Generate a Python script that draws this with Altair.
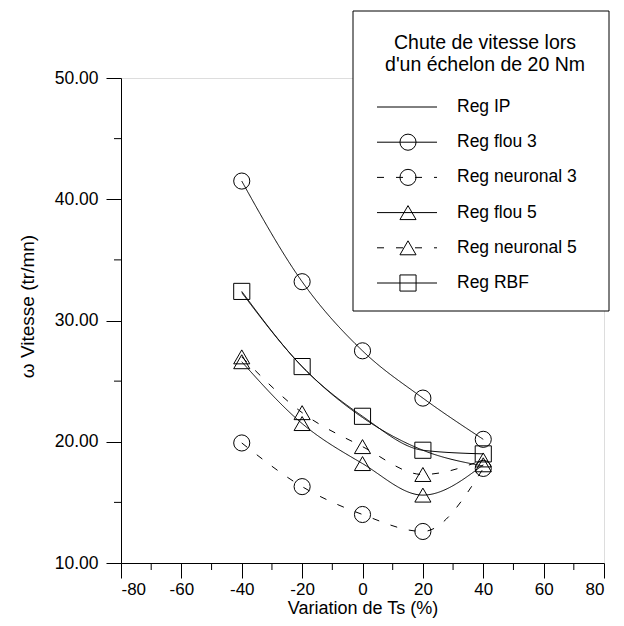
import altair as alt
import pandas as pd

# ---- data ----
ts = [-40, -20, 0, 20, 40]
series = ["Reg IP", "Reg flou 3", "Reg neuronal 3", "Reg flou 5", "Reg neuronal 5", "Reg RBF"]
reg_ip = [32.3, 26.2, 22.0, 19.3, 18.0]
reg_flou3 = [41.5, 33.2, 27.5, 23.6, 20.2]
reg_neuronal3 = [19.9, 16.3, 14.0, 12.6, 17.8]
reg_flou5 = [26.6, 21.5, 18.2, 15.6, 18.1]
reg_neuronal5 = [27.0, 22.4, 19.6, 17.3, 18.5]
reg_rbf = [32.4, 26.2, 22.1, 19.3, 19.0]
x_ticks = [-80, -60, -40, -20, 0, 20, 40, 60, 80]
x_minor = [-70, -50, -30, -10, 10, 30, 50, 70]
y_ticks = [10, 20, 30, 40, 50]
y_minor = [15, 25, 35, 45]

values = [reg_ip, reg_flou3, reg_neuronal3, reg_flou5, reg_neuronal5, reg_rbf]
rows = []
for name, vals in zip(series, values):
    for x, v in zip(ts, vals):
        rows.append({"series": name, "ts": x, "v": v})
df = pd.DataFrame(rows)

dash_map = {"Reg IP": [1, 0], "Reg flou 3": [1, 0], "Reg neuronal 3": [7, 12],
            "Reg flou 5": [1, 0], "Reg neuronal 5": [7, 12], "Reg RBF": [1, 0]}
shape_map = {"Reg flou 3": "circle", "Reg neuronal 3": "circle", "Reg flou 5": "triangle-up",
             "Reg neuronal 5": "triangle-up", "Reg RBF": "square"}

W, H = 483, 485
FONT = "Liberation Sans"

xs = alt.Scale(domain=[-80, 80], nice=False, zero=False)
ys = alt.Scale(domain=[10, 50], nice=False, zero=False)

X = alt.X("ts:Q", scale=xs, axis=alt.Axis(
    values=x_ticks, labelExpr="'' + datum.value", title="Variation de Ts (%)", tickSize=15,
    tickColor="#000", domainColor="#000",
    labelFontSize=17, labelColor="#000", labelPadding=3, labelFont=FONT, grid=False,
    titleFontSize=18, titleFontWeight="normal", titleFont=FONT, titleColor="#000",
    titleY=45, titleBaseline="middle"))
Y = alt.Y("v:Q", scale=ys, axis=alt.Axis(
    values=y_ticks, format=".2f", title="ω Vitesse (tr/mn)", tickSize=15, tickColor="#000",
    domainColor="#000", labelFontSize=17.5, labelColor="#000", labelPadding=8, labelFont=FONT,
    grid=False, titleFontSize=19, titleFontWeight="normal", titleFont=FONT, titleColor="#000",
    titleX=-94, titleY=228, titleAngle=-90, titleBaseline="middle", titleAlign="center"))

lines = alt.Chart(df).mark_line(color="black", strokeWidth=1, interpolate="monotone").encode(
    x=X, y=Y, detail="series:N",
    strokeDash=alt.StrokeDash("series:N", scale=alt.Scale(domain=series, range=[dash_map[s] for s in series]), legend=None),
)

pts_df = df[df["series"] != "Reg IP"]
pt_series = [s for s in series if s != "Reg IP"]
points = alt.Chart(pts_df).mark_point(filled=False, color="black", size=260, strokeWidth=1, opacity=1).encode(
    x="ts:Q", y="v:Q",
    shape=alt.Shape("series:N", scale=alt.Scale(domain=pt_series, range=[shape_map[s] for s in pt_series]), legend=None),
)

xminor = alt.Chart(pd.DataFrame({"t": x_minor})).mark_rule(color="black").encode(
    x=alt.X("t:Q", scale=xs), y=alt.value(H), y2=alt.value(H + 7))
yminor = alt.Chart(pd.DataFrame({"t": y_minor})).mark_rule(color="black").encode(
    y=alt.Y("t:Q", scale=ys), x=alt.value(-7), x2=alt.value(0))

# ---- manual legend (layout positions in pixels) ----
one = pd.DataFrame({"k": [0]})
leg_layers = []
leg_layers.append(alt.Chart(one).mark_rect(fill="white", stroke="black", strokeWidth=1).encode(
    x=alt.value(232), x2=alt.value(488), y=alt.value(-67), y2=alt.value(233)))
leg_layers.append(alt.Chart(one).mark_text(
    text=["Chute de vitesse lors", "d'un échelon de 20 Nm"], fontSize=19.5, font=FONT, align="center",
    baseline="middle", lineHeight=22, color="black").encode(x=alt.value(364), y=alt.value(-35)))
row0, step = 29, 35.2
for i, name in enumerate(series):
    yy = row0 + i * step
    d = pd.DataFrame({"label": [name]})
    leg_layers.append(alt.Chart(d).mark_rule(color="black", strokeWidth=1, strokeDash=dash_map[name]).encode(
        x=alt.value(256), x2=alt.value(316), y=alt.value(yy)))
    if name in shape_map:
        leg_layers.append(alt.Chart(d).mark_point(filled=False, color="black", size=260, strokeWidth=1,
                                                  shape=shape_map[name], opacity=1).encode(
            x=alt.value(287), y=alt.value(yy)))
    leg_layers.append(alt.Chart(d).mark_text(align="left", baseline="middle", fontSize=17.5, font=FONT,
                                             color="black").encode(
        x=alt.value(336), y=alt.value(yy), text="label:N"))

chart = alt.layer(lines, points, xminor, yminor, *leg_layers).properties(
    width=W, height=H,
    autosize=alt.AutoSizeParams(type="none"),
    padding={"left": 113, "top": 70, "right": 12, "bottom": 55},
).configure_view(stroke=None).configure(background="white")

chart.save("out.html", embed_options={"renderer": "svg", "actions": False})
